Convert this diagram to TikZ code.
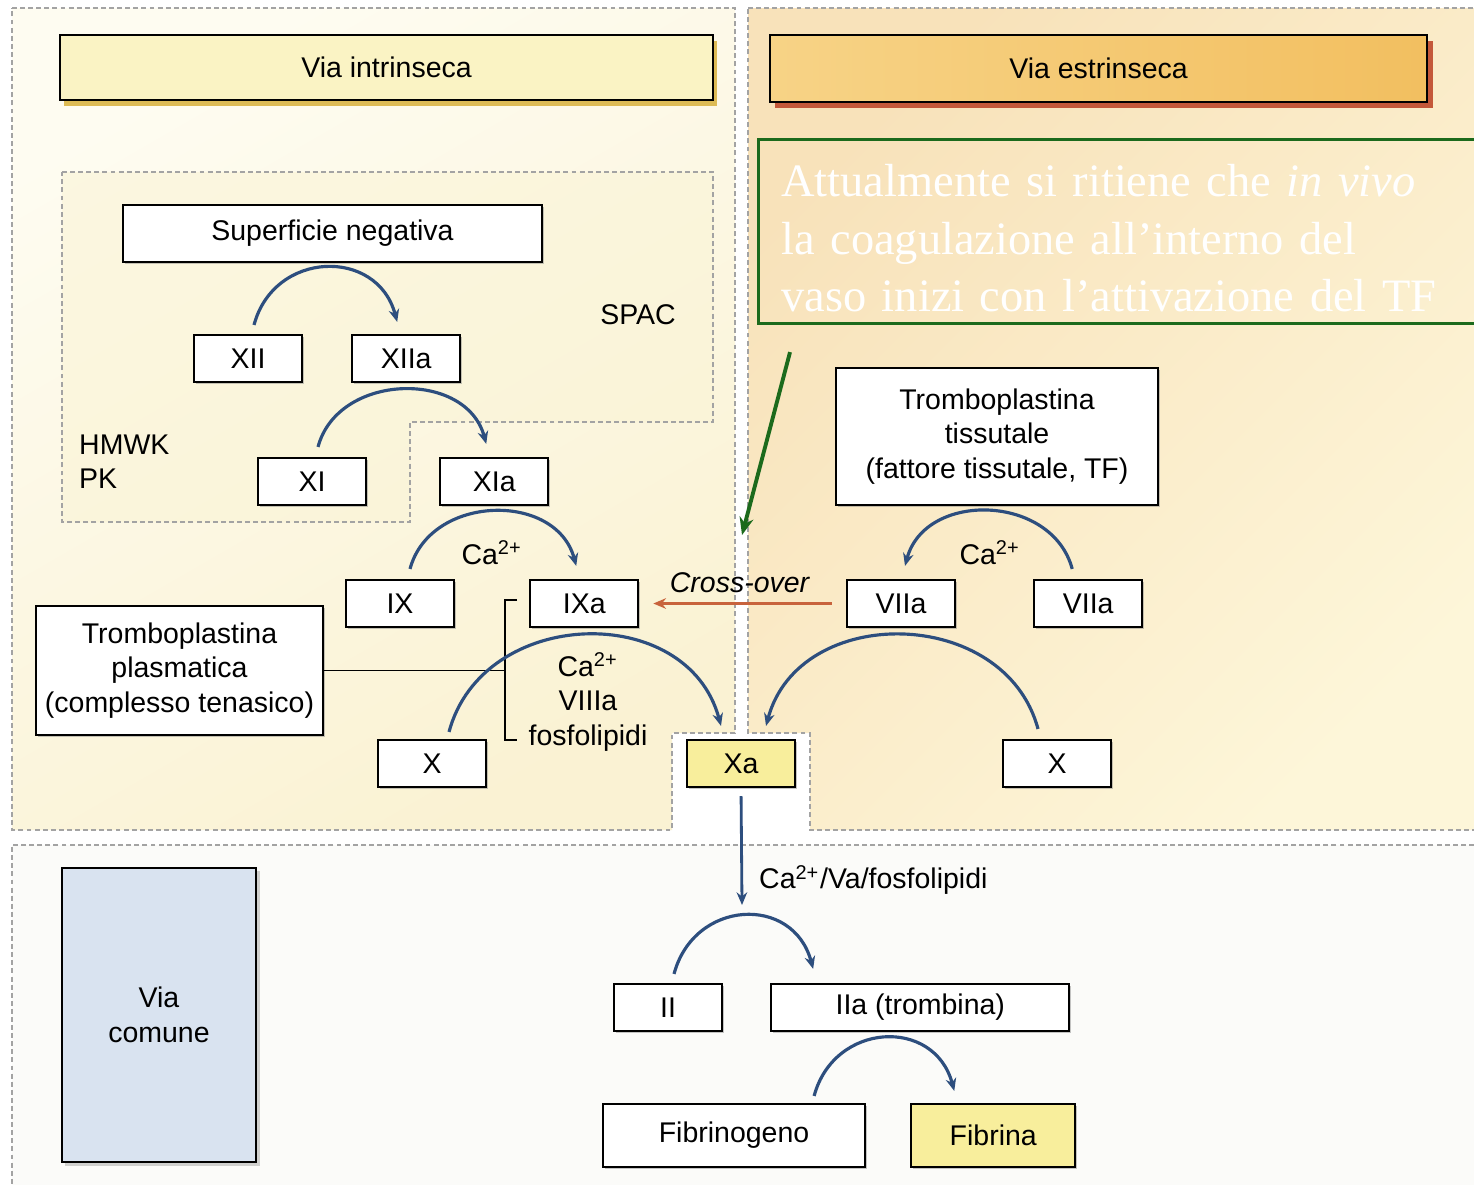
\documentclass[tikz,border=0pt]{standalone}
\usepackage{fontspec}
\setmainfont{Liberation Sans}
\newfontfamily\notefont{Liberation Serif}
\usepackage{tikz}
\usetikzlibrary{positioning,arrows.meta,shadows}
\definecolor{intrbgt}{HTML}{FEFCF1}
\definecolor{intrbgb}{HTML}{FAF2D3}
\definecolor{spacbg}{HTML}{FAF4D6}
\definecolor{extrbgt}{HTML}{F8E2BA}
\definecolor{extrbgb}{HTML}{FDF6D9}
\definecolor{combg}{HTML}{FBFBF9}
\definecolor{intrhd}{HTML}{FAF3C4}
\definecolor{intrsh}{HTML}{DDBB55}
\definecolor{extrhdl}{HTML}{F7D386}
\definecolor{extrhdr}{HTML}{F2BF60}
\definecolor{extrsh}{HTML}{C4583A}
\definecolor{actc}{HTML}{F8EE9C}
\definecolor{comc}{HTML}{D9E3F0}
\definecolor{arcc}{HTML}{2D4E7E}
\definecolor{xoverc}{HTML}{C8633C}
\definecolor{notec}{HTML}{1C6A1C}
\definecolor{dashc}{HTML}{A3A3A3}

\begin{document}
\begin{tikzpicture}[x=0.01cm, y=-0.01cm, font=\fontsize{8.1}{9.8}\selectfont,
  >={Stealth[length=3.6pt, width=3pt]},
  region/.style={draw=dashc, line width=0.4pt, dash pattern=on 1.4pt off 0.9pt},
  fac/.style={draw, fill=white, line width=0.6pt, minimum width=1.08cm,
              minimum height=0.47cm, inner sep=0pt,
              drop shadow={shadow xshift=0.5pt, shadow yshift=-0.6pt, opacity=0.45}},
  bigbox/.style={fac, align=center},
  header/.style={draw, line width=0.6pt, minimum height=0.65cm, inner sep=0pt},
  actv/.style={->, draw=arcc, line width=0.9pt},
  lbl/.style={inner sep=1pt}]
  \useasboundingbox (0,0) rectangle (1474,1184);
  \fill[white] (0,0) rectangle (1474,1184);
  % pathway areas
  \path[region, top color=intrbgt, bottom color=intrbgb, shading angle=30] (12,8) -- (735,8)
       -- (735,733) -- (672,733) -- (672,830) -- (12,830) -- cycle;
  \path[region, top color=extrbgt, bottom color=extrbgb, shading angle=45] (748,8) -- (1490,8)
       -- (1490,830) -- (810,830) -- (810,733) -- (748,733) -- cycle;
  \path[region, fill=combg] (1490,845) -- (12,845) -- (12,1195) -- (1490,1195);
  \path[region, fill=spacbg, fill opacity=0.6] (62,172) -- (713,172) -- (713,422) -- (410,422)
       -- (410,522) -- (62,522) -- cycle;

  \node[header, fill=intrhd, minimum width=6.53cm,
        drop shadow={fill=intrsh, opacity=1, shadow xshift=1.2pt, shadow yshift=-1.8pt}]
        (intr) at (386.5,67.5) {Via intrinseca};
  \node[header, left color=extrhdl, right color=extrhdr, minimum width=6.57cm,
        minimum height=0.67cm,
        drop shadow={fill=extrsh, opacity=1, shadow xshift=1.5pt, shadow yshift=-1.8pt}]
        (extr) at (1098.5,68.5) {Via estrinseca};
  \node[draw=notec, line width=0.8pt, anchor=north west, minimum width=7.3cm,
        minimum height=1.82cm, text width=6.9cm, inner xsep=0.23cm, align=left,
        text=white, font=\notefont\fontsize{13.2}{16.3}\selectfont] (note) at (757,138)
        {\rule{0pt}{13pt}Attualmente si ritiene che \textit{in vivo}\\la coagulazione all’interno del\\vaso inizi con l’attivazione del TF};
  \coordinate (gtip) at (742,535);
  \draw[notec, line width=1.1pt, -{Stealth[length=5pt, width=4pt]}]
       ([xshift=0.33cm, yshift=-0.27cm]note.south west) -- (gtip);

  % intrinsic
  \node[bigbox, minimum width=4.19cm, minimum height=0.57cm] (sup) at (332.5,233.5) {Superficie negativa};
  \node[fac] (xii) at (248,358.5) {XII};
  \node[fac, right=0.48cm of xii] (xiia) {XIIa};
  \node[lbl] (spac) at (638,315) {SPAC};
  \node[lbl, anchor=west, align=left] (hk) at (75,461.5) {HMWK\\PK};
  \node[fac] (xi) at (312,481.5) {XI};
  \node[fac, right=0.72cm of xi] (xia) {XIa};
  \node[fac] (ix) at (400,603.5) {IX};
  \node[fac, right=0.74cm of ix] (ixa) {IXa};
  \node[lbl] (ca1) at (492,553) {Ca\textsuperscript{2+}};
  \node[bigbox, minimum width=2.87cm, minimum height=1.29cm] (tp) at (179.5,670.5)
        {Tromboplastina\\plasmatica\\(complesso tenasico)};
  \node[fac] (xl) at (432,763.5) {X};
  \node[fac, fill=actc] (xa) at (741,763.5) {Xa};
  \node[lbl, align=center] (cof) at (588,702) {Ca\textsuperscript{2+}\\VIIIa\\fosfolipidi};
  \coordinate (brtop) at (517,600);
  \coordinate (brbot) at (517,740);
  \coordinate (brmid) at (505,670.5);
  \draw[line width=0.5pt] (brtop) -- ++(-12,0) -- ++(0,140) -- (brbot);
  \draw[line width=0.5pt] (tp.east) -- (brmid);

  % extrinsic
  \node[bigbox, minimum width=3.22cm, minimum height=1.37cm] (tt) at (997,436.5)
        {Tromboplastina\\tissutale\\(fattore tissutale, TF)};
  \node[fac] (viia) at (901,603.5) {VIIa};
  \node[fac, right=0.77cm of viia] (vii) {VIIa};
  \node[lbl] (ca2) at (990,553) {Ca\textsuperscript{2+}};
  \node[fac] (xr) at (1057,763.5) {X};
  \node[lbl] (xo) at (740,583) {\textit{Cross-over}};
  \draw[->, xoverc, line width=1.1pt, shorten <=0.14cm, shorten >=0.14cm] (viia.west) -- (ixa.east);

  % common
  \node[draw, line width=0.6pt, fill=comc, minimum width=1.94cm, minimum height=2.94cm,
        align=center, drop shadow={shadow xshift=1pt, shadow yshift=-1pt, opacity=0.35}]
        (com) at (159,1015) {Via\\comune};
  \coordinate (xaend) at (742,905);
  \draw[->, draw=arcc, line width=0.8pt, shorten <=0.08cm] (xa.south) -- (xaend);
  \node[lbl, anchor=west] (cvf) at (755,880) {Ca\textsuperscript{2+}/Va/fosfolipidi};
  \node[fac] (ii) at (668,1007.5) {II};
  \node[fac, right=0.47cm of ii, minimum width=2.98cm] (iia) {IIa (trombina)};
  \node[bigbox, minimum width=2.62cm, minimum height=0.63cm] (fgeno) at (734,1135.5) {Fibrinogeno};
  \node[bigbox, fill=actc, minimum width=1.64cm, minimum height=0.63cm, right=0.44cm of fgeno] (fbrina) {Fibrina};

  % activations
  \draw[actv] ([xshift=0.06cm, yshift=0.09cm]xii.north) to[out=75, in=105, looseness=1.38] ([xshift=-0.09cm, yshift=0.12cm]xiia.north);
  \draw[actv] ([xshift=0.06cm, yshift=0.10cm]xi.north) to[out=75, in=105, looseness=1.17] ([xshift=-0.08cm, yshift=0.13cm]xia.north);
  \draw[actv] ([xshift=0.10cm, yshift=0.10cm]ix.north) to[out=75, in=105, looseness=1.19] ([xshift=-0.08cm, yshift=0.13cm]ixa.north);
  \draw[actv] ([xshift=0.17cm, yshift=0.07cm]xl.north) to[out=75, in=105, looseness=1.22] ([xshift=-0.20cm, yshift=0.13cm]xa.north);
  \draw[actv] ([xshift=-0.16cm, yshift=0.10cm]vii.north) to[out=105, in=75, looseness=1.19] ([xshift=0.04cm, yshift=0.13cm]viia.north);
  \draw[actv] ([xshift=-0.19cm, yshift=0.10cm]xr.north) to[out=105, in=75, looseness=1.2] ([xshift=0.25cm, yshift=0.13cm]xa.north);
  \draw[actv] ([xshift=0.06cm, yshift=0.09cm]ii.north) to[out=75, in=105, looseness=1.42] ([xshift=0.43cm, yshift=0.14cm]iia.north west);
  \draw[actv] ([xshift=-0.52cm, yshift=0.07cm]fgeno.north east) to[out=75, in=105, looseness=1.4] ([xshift=-0.39cm, yshift=0.12cm]fbrina.north);
\end{tikzpicture}
\end{document}
